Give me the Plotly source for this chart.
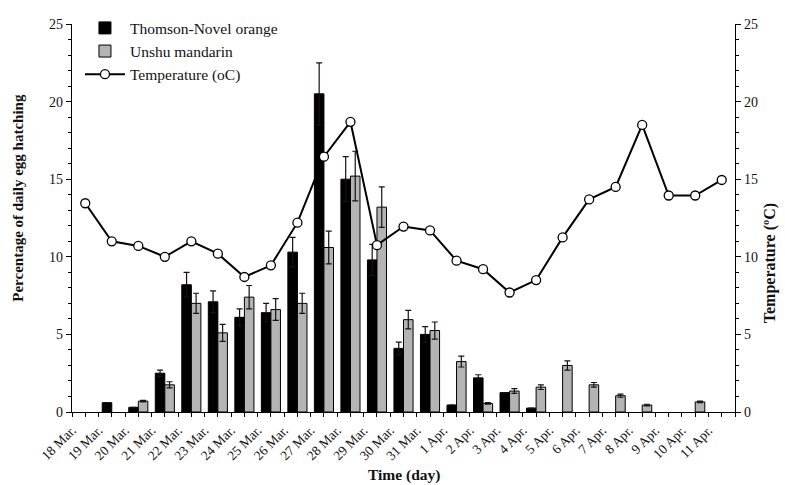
import plotly.graph_objects as go

# Daily egg hatching (%) on two citrus hosts, with daily mean temperature
days = ["18 Mar.", "19 Mar.", "20 Mar.", "21 Mar.", "22 Mar.", "23 Mar.", "24 Mar.",
        "25 Mar.", "26 Mar.", "27 Mar.", "28 Mar.", "29 Mar.", "30 Mar.", "31 Mar.",
        "1 Apr.", "2 Apr.", "3 Apr.", "4 Apr.", "5 Apr.", "6 Apr.", "7 Apr.",
        "8 Apr.", "9 Apr.", "10 Apr.", "11 Apr."]

thomson = [0, 0.6, 0.3, 2.5, 8.2, 7.1, 6.1, 6.4, 10.3, 20.5, 15.0, 9.8, 4.1, 5.0,
           0.45, 2.2, 1.25, 0.25, 0, 0, 0, 0, 0, 0, 0]
thomson_err = [0, 0, 0, 0.2, 0.8, 0.7, 0.55, 0.6, 0.95, 2.0, 1.45, 1.0, 0.4, 0.5,
               0, 0.2, 0, 0, 0, 0, 0, 0, 0, 0, 0]

unshu = [0, 0, 0.7, 1.75, 7.0, 5.1, 7.4, 6.6, 7.0, 10.6, 15.2, 13.2, 5.95, 5.25,
         3.25, 0.55, 1.35, 1.6, 3.0, 1.75, 1.05, 0.45, 0, 0.65, 0]
unshu_err = [0, 0, 0.05, 0.2, 0.65, 0.55, 0.75, 0.7, 0.65, 1.05, 1.6, 1.3, 0.6, 0.55,
             0.35, 0.05, 0.15, 0.15, 0.3, 0.15, 0.1, 0.05, 0, 0.05, 0]

temperature = [13.45, 11.0, 10.7, 10.0, 11.0, 10.2, 8.7, 9.45, 12.2, 16.45, 18.7, 10.75,
               11.95, 11.7, 9.75, 9.2, 7.7, 8.5, 11.25, 13.7, 14.5, 18.5, 13.95, 13.95, 14.95]

FONT = "Liberation Serif, Times New Roman, serif"
x = list(range(len(days)))


def hide_zero(values):
    # days without hatching get no bar (and no outline/cap at the baseline)
    return [v if v else None for v in values]


fig = go.Figure()
fig.add_trace(go.Bar(
    x=x, y=hide_zero(thomson), name="Thomson-Novel orange",
    marker=dict(color="black", line=dict(color="black", width=1)),
    error_y=dict(type="data", array=thomson_err, color="#1a1010", thickness=1.2, width=3),
))
fig.add_trace(go.Bar(
    x=x, y=hide_zero(unshu), name="Unshu mandarin",
    marker=dict(color="#b4b4b4", line=dict(color="black", width=1)),
    error_y=dict(type="data", array=unshu_err, color="#1a1010", thickness=1.2, width=3),
))
fig.add_trace(go.Scatter(
    x=x, y=temperature, name="Temperature (oC)", yaxis="y2",
    mode="lines+markers",
    line=dict(color="black", width=2),
    marker=dict(symbol="circle", size=9, color="white", line=dict(color="black", width=1.3)),
))

axis_common = dict(
    range=[0, 25], tickvals=[0, 5, 10, 15, 20, 25], ticks="outside", ticklen=5,
    tickcolor="black", showline=True, linecolor="black", linewidth=1.2,
    showgrid=False, zeroline=False,
    minor=dict(dtick=1, ticks="outside", ticklen=3, tickcolor="black"),
    tickfont=dict(family=FONT, size=14, color="#111"),
)

# Day labels sit at the left edge of each day's slot; ticks mark both slot
# edges and slot centres.
label_pos = [i - 0.5 for i in x] + [len(days) - 0.5]
label_txt = days + [""]

fig.update_layout(
    width=785, height=485,
    margin=dict(l=72, r=50, t=23, b=73),
    paper_bgcolor="white", plot_bgcolor="white",
    barmode="group", bargap=0.28, bargroupgap=0,
    font=dict(family=FONT, color="black"),
    showlegend=True,
    legend=dict(x=0.012, y=1.03, xanchor="left", yanchor="top",
                bgcolor="rgba(0,0,0,0)", font=dict(family=FONT, size=15.5, color="#111"),
                tracegroupgap=0, itemwidth=40),
    xaxis=dict(
        range=[-0.5, len(days) - 0.5],
        tickvals=label_pos, ticktext=label_txt, tickangle=-45,
        ticks="outside", ticklen=4, tickcolor="black",
        minor=dict(tick0=0, dtick=1, ticks="outside", ticklen=4, tickcolor="black"),
        showline=True, linecolor="black", linewidth=1.2,
        showgrid=False, zeroline=False,
        tickfont=dict(family=FONT, size=13.5, color="#111"),
    ),
    yaxis=dict(**axis_common),
    yaxis2=dict(**axis_common, overlaying="y", side="right"),
    annotations=[
        dict(text="<b>Time (day)</b>", xref="paper", yref="paper",
             x=0.5, y=-0.163, xanchor="center", yanchor="middle", showarrow=False,
             font=dict(family=FONT, size=15.5, color="#111")),
        dict(text="<b>Percentage of daily egg hatching</b>", xref="paper", yref="paper",
             x=-0.081, y=0.553, xanchor="center", yanchor="middle", showarrow=False,
             textangle=-90, font=dict(family=FONT, size=15, color="#111")),
        dict(text="<b>Temperature (ºC)</b>", xref="paper", yref="paper",
             x=1.054, y=0.383, xanchor="center", yanchor="middle", showarrow=False,
             textangle=-90, font=dict(family=FONT, size=16, color="#111")),
    ],
)

fig.write_html("out.html")
